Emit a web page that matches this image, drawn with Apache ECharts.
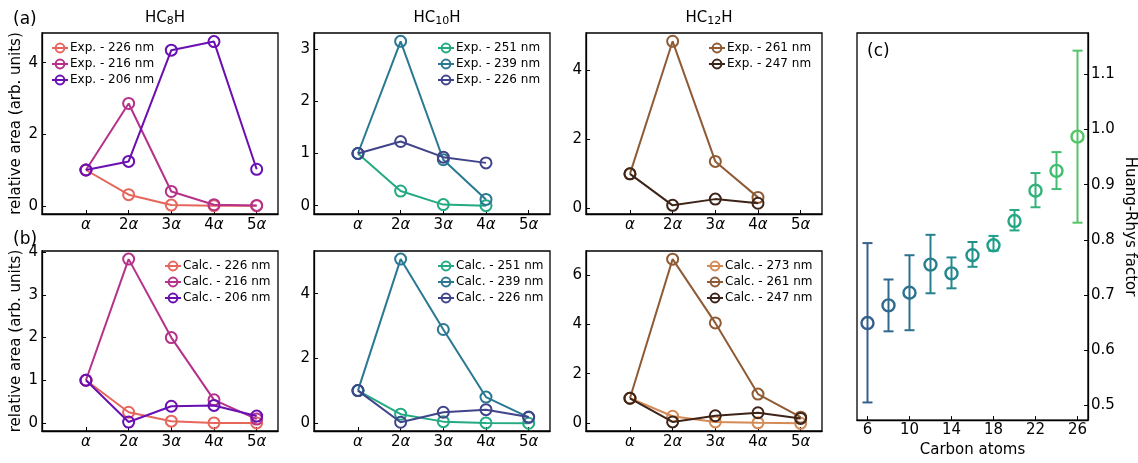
<!DOCTYPE html>
<html>
<head>
<meta charset="utf-8">
<script src="https://cdn.jsdelivr.net/npm/echarts@6/dist/echarts.min.js"></script>
<style>html,body{margin:0;padding:0;background:#fff;}#c{width:1138px;height:463px;}</style>
</head>
<body>
<div id="c"></div>
<script>
// ---- data ----
const harmonicLabels = ['α', '2α', '3α', '4α', '5α'];

const hc8Exp226 = [1, 0.31, 0.02, 0.0, 0.0];
const hc8Exp216 = [1, 2.86, 0.40, 0.03, 0.01];
const hc8Exp206 = [1, 1.24, 4.35, 4.59, 1.02];

const hc10Exp251 = [1, 0.28, 0.02, 0.0];
const hc10Exp239 = [1, 3.15, 0.88, 0.12];
const hc10Exp226 = [1, 1.23, 0.93, 0.82];

const hc12Exp261 = [1, 4.83, 1.36, 0.32];
const hc12Exp247 = [1, 0.09, 0.27, 0.15];

const hc8Calc226 = [1, 0.25, 0.04, 0.0, 0.0];
const hc8Calc216 = [1, 3.84, 2.00, 0.54, 0.09];
const hc8Calc206 = [1, 0.02, 0.39, 0.41, 0.16];

const hc10Calc251 = [1, 0.27, 0.04, 0.0, -0.01];
const hc10Calc239 = [1, 5.07, 2.89, 0.80, 0.17];
const hc10Calc226 = [1, 0.02, 0.33, 0.41, 0.18];

const hc12Calc273 = [1, 0.27, 0.04, 0.0, -0.02];
const hc12Calc261 = [1, 6.65, 4.06, 1.17, 0.23];
const hc12Calc247 = [1, 0.04, 0.29, 0.41, 0.18];

const carbonAtoms = [6, 8, 10, 12, 14, 16, 18, 20, 22, 24, 26];
const hrFactor = [0.649, 0.681, 0.704, 0.755, 0.739, 0.772, 0.790, 0.834, 0.889, 0.925, 0.987];
const hrLow    = [0.505, 0.634, 0.636, 0.703, 0.712, 0.751, 0.780, 0.817, 0.859, 0.892, 0.831];
const hrHigh   = [0.794, 0.728, 0.772, 0.809, 0.768, 0.796, 0.807, 0.854, 0.921, 0.959, 1.143];
const carbonTicks = [6, 10, 14, 18, 22, 26];
const hrTicks = [0.5, 0.6, 0.7, 0.8, 0.9, 1.0, 1.1];

// ---- styling ----
const FONT = 'DejaVu Sans';
const NONE = 'rgba(0,0,0,0)';
const hrColors = ['#35608d', '#30698e', '#2c728e', '#277f8e', '#24878e', '#20928c', '#1f9e89', '#26a983', '#33b37b', '#42bc71', '#55c567'];

const grids = [
  {left: 42, top: 33, width: 236, height: 181},
  {left: 314, top: 33, width: 236, height: 181},
  {left: 586, top: 33, width: 236, height: 181},
  {left: 42, top: 251, width: 236, height: 180},
  {left: 314, top: 251, width: 236, height: 180},
  {left: 586, top: 251, width: 236, height: 180},
  {left: 857, top: 33, width: 236, height: 399}
].map(g => Object.assign({show: true, borderColor: '#000', borderWidth: 1.3, backgroundColor: 'transparent'}, g));

const harmonicPos = harmonicLabels.map((_, i) => i + 1);

function xAxisHarm(gi) {
  return {
    type: 'value', gridIndex: gi, min: -0.03, max: 5.5,
    axisLine: {show: true, onZero: false, lineStyle: {color: '#000', width: 1.3}},
    axisTick: {show: true, inside: true, length: 4, customValues: harmonicPos, lineStyle: {color: '#000'}},
    splitLine: {show: false},
    axisLabel: {
      customValues: harmonicPos, margin: 4, color: '#000', fontFamily: FONT, fontSize: 15,
      formatter: v => {
        const s = harmonicLabels[Math.round(v) - 1] || '';
        const n = s.slice(0, -1);
        return (n ? '{n|' + n + '}' : '') + '{a|α}';
      },
      rich: {
        n: {fontFamily: FONT, fontSize: 15, color: '#000'},
        a: {fontFamily: FONT, fontSize: 15, fontStyle: 'italic', color: '#000'}
      }
    }
  };
}
function yAxisRel(gi, min, max, ticks, name) {
  return {
    type: 'value', gridIndex: gi, min: min, max: max,
    name: name || '', nameLocation: 'middle', nameGap: 18,
    nameTextStyle: {fontFamily: FONT, fontSize: 15, color: '#000'},
    axisLine: {show: true, onZero: false, lineStyle: {color: '#000', width: 1.3}},
    axisTick: {show: true, inside: true, length: 4, customValues: ticks, lineStyle: {color: '#000'}},
    splitLine: {show: false},
    axisLabel: {customValues: ticks, margin: 4, color: '#000', fontFamily: FONT, fontSize: 15}
  };
}

function lineSeries(name, values, color, gi, z) {
  return {
    type: 'line', name: name, xAxisIndex: gi, yAxisIndex: gi,
    data: values.map((v, i) => [harmonicPos[i], v]),
    symbol: 'circle', symbolSize: 11, z: z,
    lineStyle: {color: color, width: 2},
    itemStyle: {color: NONE, borderColor: color, borderWidth: 2},
    emphasis: {disabled: true}, animation: false
  };
}

function legend(left, top, names) {
  return {
    orient: 'vertical', left: left, top: top, itemGap: 4, itemWidth: 16, itemHeight: 11,
    data: names, selectedMode: false, padding: 0,
    formatter: n => n.split('|')[0],
    textStyle: {fontFamily: FONT, fontSize: 12, color: '#000', padding: [0, 0, 0, -3]}
  };
}

const C = {
  c8_226: '#e6665c', c8_216: '#b5318a', c8_206: '#6a0fb2',
  c10_251: '#23aa82', c10_239: '#2a7892', c10_226: '#40448a',
  c12_273: '#d48a55', c12_261: '#8f5b35', c12_247: '#3e2418'
};

const titleRich = {
  a: {fontFamily: FONT, fontSize: 15, fontWeight: 'normal', color: '#000'},
  s: {fontFamily: FONT, fontSize: 11, fontWeight: 'normal', color: '#000', verticalAlign: 'bottom', padding: [6, 0, 0, 0]}
};

const series = [
  lineSeries('Exp. - 226 nm', hc8Exp226, C.c8_226, 0, 2),
  lineSeries('Exp. - 216 nm', hc8Exp216, C.c8_216, 0, 3),
  lineSeries('Exp. - 206 nm', hc8Exp206, C.c8_206, 0, 4),
  lineSeries('Exp. - 251 nm', hc10Exp251, C.c10_251, 1, 2),
  lineSeries('Exp. - 239 nm', hc10Exp239, C.c10_239, 1, 3),
  lineSeries('Exp. - 226 nm|b', hc10Exp226, C.c10_226, 1, 4),
  lineSeries('Exp. - 261 nm', hc12Exp261, C.c12_261, 2, 2),
  lineSeries('Exp. - 247 nm', hc12Exp247, C.c12_247, 2, 3),
  lineSeries('Calc. - 226 nm', hc8Calc226, C.c8_226, 3, 2),
  lineSeries('Calc. - 216 nm', hc8Calc216, C.c8_216, 3, 3),
  lineSeries('Calc. - 206 nm', hc8Calc206, C.c8_206, 3, 4),
  lineSeries('Calc. - 251 nm', hc10Calc251, C.c10_251, 4, 2),
  lineSeries('Calc. - 239 nm', hc10Calc239, C.c10_239, 4, 3),
  lineSeries('Calc. - 226 nm|b', hc10Calc226, C.c10_226, 4, 4),
  lineSeries('Calc. - 273 nm', hc12Calc273, C.c12_273, 5, 2),
  lineSeries('Calc. - 261 nm', hc12Calc261, C.c12_261, 5, 3),
  lineSeries('Calc. - 247 nm', hc12Calc247, C.c12_247, 5, 4),
  {
    type: 'custom', xAxisIndex: 6, yAxisIndex: 6, z: 2, animation: false,
    data: carbonAtoms.map((x, i) => [x, hrLow[i], hrHigh[i]]),
    renderItem: (params, api) => {
      const x = api.value(0);
      const lo = api.coord([x, api.value(1)]);
      const hi = api.coord([x, api.value(2)]);
      const col = hrColors[params.dataIndex];
      const st = {stroke: col, lineWidth: 2};
      const w = 5;
      return {type: 'group', children: [
        {type: 'line', shape: {x1: lo[0], y1: lo[1], x2: hi[0], y2: hi[1]}, style: st},
        {type: 'line', shape: {x1: lo[0] - w, y1: lo[1], x2: lo[0] + w, y2: lo[1]}, style: st},
        {type: 'line', shape: {x1: hi[0] - w, y1: hi[1], x2: hi[0] + w, y2: hi[1]}, style: st}
      ]};
    }
  },
  {
    type: 'scatter', xAxisIndex: 6, yAxisIndex: 6, z: 3, animation: false,
    data: carbonAtoms.map((x, i) => ({value: [x, hrFactor[i]], itemStyle: {color: NONE, borderColor: hrColors[i], borderWidth: 2.4, opacity: 1}})),
    symbol: 'circle', symbolSize: 12,
    itemStyle: {opacity: 1},
    emphasis: {disabled: true}
  }
];

const option = {
  backgroundColor: '#fff',
  animation: false,
  textStyle: {fontFamily: FONT},
  title: [
    {text: '{a|HC}{s|8}{a|H}', left: 160, top: 5, textAlign: 'center', textStyle: {fontWeight: 'normal', rich: titleRich}},
    {text: '{a|HC}{s|10}{a|H}', left: 432, top: 5, textAlign: 'center', textStyle: {fontWeight: 'normal', rich: titleRich}},
    {text: '{a|HC}{s|12}{a|H}', left: 704, top: 5, textAlign: 'center', textStyle: {fontWeight: 'normal', rich: titleRich}},
    {text: '(a)', left: 8, top: 6, textStyle: {fontFamily: FONT, fontSize: 17, fontWeight: 'normal', color: '#000'}},
    {text: '(b)', left: 8, top: 226, textStyle: {fontFamily: FONT, fontSize: 17, fontWeight: 'normal', color: '#000'}},
    {text: '(c)', left: 862, top: 38, textStyle: {fontFamily: FONT, fontSize: 17, fontWeight: 'normal', color: '#000'}}
  ],
  legend: [
    legend(51, 42, ['Exp. - 226 nm', 'Exp. - 216 nm', 'Exp. - 206 nm']),
    legend(437, 42, ['Exp. - 251 nm', 'Exp. - 239 nm', 'Exp. - 226 nm|b']),
    legend(708, 42, ['Exp. - 261 nm', 'Exp. - 247 nm']),
    legend(164, 260, ['Calc. - 226 nm', 'Calc. - 216 nm', 'Calc. - 206 nm']),
    legend(437, 260, ['Calc. - 251 nm', 'Calc. - 239 nm', 'Calc. - 226 nm|b']),
    legend(706, 260, ['Calc. - 273 nm', 'Calc. - 261 nm', 'Calc. - 247 nm'])
  ],
  grid: grids,
  xAxis: [
    xAxisHarm(0), xAxisHarm(1), xAxisHarm(2), xAxisHarm(3), xAxisHarm(4), xAxisHarm(5),
    {
      type: 'value', gridIndex: 6, min: 5, max: 27,
      name: 'Carbon atoms', nameLocation: 'middle', nameGap: 18,
      nameTextStyle: {fontFamily: FONT, fontSize: 15, color: '#000'},
      axisLine: {show: true, onZero: false, lineStyle: {color: '#000', width: 1.3}},
      axisTick: {show: true, inside: true, length: 4, customValues: carbonTicks, lineStyle: {color: '#000'}},
      splitLine: {show: false},
      axisLabel: {customValues: carbonTicks, margin: 3, color: '#000', fontFamily: FONT, fontSize: 15}
    }
  ],
  yAxis: [
    yAxisRel(0, -0.23, 4.83, [0, 2, 4], 'relative area (arb. units)'),
    yAxisRel(1, -0.16, 3.31, [0, 1, 2, 3]),
    yAxisRel(2, -0.16, 5.07, [0, 2, 4]),
    yAxisRel(3, -0.19, 4.03, [0, 1, 2, 3, 4], 'relative area (arb. units)'),
    yAxisRel(4, -0.25, 5.32, [0, 2, 4]),
    yAxisRel(5, -0.33, 6.98, [0, 2, 4, 6]),
    {
      type: 'value', gridIndex: 6, position: 'right', min: 0.473, max: 1.175,
      name: 'Huang-Rhys factor', nameLocation: 'middle', nameGap: 34, nameRotate: -90,
      nameTextStyle: {fontFamily: FONT, fontSize: 15, color: '#000'},
      axisLine: {show: true, onZero: false, lineStyle: {color: '#000', width: 1.3}},
      axisTick: {show: true, inside: true, length: 4, customValues: hrTicks, lineStyle: {color: '#000'}},
      splitLine: {show: false},
      axisLabel: {customValues: hrTicks, margin: 3, color: '#000', fontFamily: FONT, fontSize: 15, formatter: v => v.toFixed(1)}
    }
  ],
  series: series
};

const chart = echarts.init(document.getElementById('c'), null, {renderer: 'canvas'});
chart.setOption(option);
</script>
</body>
</html>
